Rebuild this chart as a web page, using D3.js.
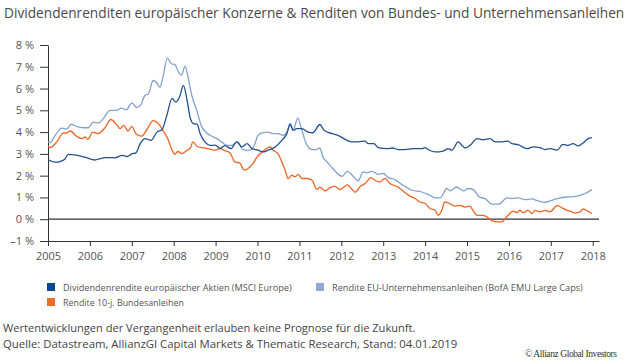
<!DOCTYPE html>
<html>
<head>
<meta charset="utf-8">
<script src="https://cdn.jsdelivr.net/npm/d3@7"></script>
<style>
  html, body { margin: 0; padding: 0; background: #fff; }
  svg { display: block; font-family: 'Open Sans', sans-serif; }
</style>
</head>
<body>
<svg width="630" height="364"></svg>
<script>
const svg = d3.select('svg');
const width = 630;
const height = 364;

// data: [decimal year, yield in %]
const divYield = [
  [2005.00,2.74],[2005.17,2.62],[2005.29,2.65],[2005.40,2.75],[2005.48,2.98],[2005.64,2.95],[2005.88,2.85],
  [2006.12,2.72],[2006.24,2.78],[2006.36,2.83],[2006.60,2.82],[2006.77,2.93],[2006.89,2.88],[2007.00,3.00],
  [2007.10,3.05],[2007.20,3.47],[2007.32,3.70],[2007.46,3.62],[2007.60,4.00],[2007.72,4.11],[2007.84,4.80],
  [2007.96,5.55],[2008.05,5.38],[2008.15,5.67],[2008.23,6.15],[2008.32,5.46],[2008.39,4.69],[2008.47,4.39],
  [2008.56,4.36],[2008.63,3.94],[2008.75,3.54],[2008.87,3.39],[2008.99,3.40],[2009.11,3.25],[2009.22,3.38],
  [2009.37,3.24],[2009.50,3.55],[2009.63,3.32],[2009.75,3.47],[2009.87,3.24],[2010.01,3.17],[2010.13,3.09],
  [2010.25,3.17],[2010.42,3.32],[2010.58,3.62],[2010.70,3.93],[2010.78,4.36],[2010.85,4.08],[2010.94,4.16],
  [2011.06,4.16],[2011.21,4.00],[2011.32,3.97],[2011.49,4.35],[2011.59,4.08],[2011.78,3.93],[2011.92,3.85],
  [2012.14,3.62],[2012.26,3.55],[2012.40,3.55],[2012.57,3.59],[2012.64,3.47],[2012.78,3.47],[2012.88,3.29],
  [2013.09,3.24],[2013.23,3.27],[2013.35,3.20],[2013.52,3.20],[2013.71,3.24],[2013.93,3.24],[2014.00,3.29],
  [2014.07,3.20],[2014.24,3.09],[2014.43,3.13],[2014.55,3.24],[2014.64,3.17],[2014.79,3.55],[2014.88,3.39],
  [2014.95,3.27],[2015.07,3.39],[2015.24,3.70],[2015.38,3.65],[2015.55,3.70],[2015.67,3.55],[2015.84,3.55],
  [2015.98,3.59],[2016.07,3.47],[2016.22,3.42],[2016.43,3.24],[2016.58,3.32],[2016.74,3.29],[2016.86,3.20],
  [2016.98,3.24],[2017.15,3.17],[2017.29,3.44],[2017.41,3.39],[2017.53,3.47],[2017.65,3.37],[2017.77,3.50],
  [2017.89,3.70],[2017.98,3.75]
];

const corpYield = [
  [2005.00,3.55],[2005.05,3.52],[2005.17,3.85],[2005.33,4.18],[2005.45,4.14],[2005.55,4.36],[2005.69,4.25],
  [2005.84,4.20],[2005.96,4.20],[2006.08,4.46],[2006.20,4.42],[2006.32,4.62],[2006.48,5.00],[2006.63,5.00],
  [2006.75,5.10],[2006.87,5.02],[2007.00,5.34],[2007.12,5.12],[2007.22,5.27],[2007.32,5.70],[2007.39,5.74],
  [2007.51,6.37],[2007.59,6.28],[2007.67,6.06],[2007.74,6.50],[2007.85,7.40],[2007.94,7.14],[2008.03,7.10],
  [2008.11,6.78],[2008.19,6.62],[2008.27,7.03],[2008.35,6.45],[2008.43,5.70],[2008.55,5.00],[2008.67,4.24],
  [2008.79,3.96],[2008.91,3.81],[2009.03,3.70],[2009.14,3.55],[2009.27,3.39],[2009.37,3.39],[2009.53,3.55],
  [2009.65,3.20],[2009.82,3.17],[2009.94,3.47],[2010.01,3.85],[2010.13,3.98],[2010.25,4.00],[2010.37,3.93],
  [2010.49,3.93],[2010.61,3.85],[2010.70,4.00],[2010.78,4.39],[2010.85,4.08],[2010.96,4.64],[2011.06,4.08],
  [2011.18,3.40],[2011.30,3.20],[2011.40,3.20],[2011.49,3.27],[2011.56,2.86],[2011.66,2.63],[2011.80,2.32],
  [2012.02,1.97],[2012.14,2.20],[2012.26,2.02],[2012.40,1.76],[2012.52,2.17],[2012.61,2.13],[2012.73,2.20],
  [2012.88,2.06],[2013.00,2.10],[2013.12,1.91],[2013.28,1.82],[2013.44,1.60],[2013.52,1.51],[2013.68,1.33],
  [2013.92,1.25],[2014.08,1.13],[2014.24,0.98],[2014.36,0.98],[2014.52,1.41],[2014.59,1.30],[2014.75,1.48],
  [2014.92,1.30],[2015.03,1.41],[2015.15,1.36],[2015.31,1.00],[2015.43,0.95],[2015.59,0.69],[2015.71,0.69],
  [2015.79,0.72],[2015.95,0.98],[2016.07,0.95],[2016.22,0.98],[2016.38,0.90],[2016.54,0.93],[2016.70,0.84],
  [2016.86,0.78],[2017.02,0.87],[2017.18,0.96],[2017.38,1.02],[2017.54,1.04],[2017.70,1.10],[2017.82,1.18],
  [2017.98,1.36]
];

const bundYield = [
  [2005.00,3.35],[2005.05,3.29],[2005.21,3.55],[2005.36,3.95],[2005.45,3.97],[2005.53,4.05],[2005.69,3.80],
  [2005.81,3.70],[2005.88,3.78],[2005.95,3.67],[2006.07,4.00],[2006.19,3.93],[2006.36,4.20],[2006.50,4.58],
  [2006.65,4.31],[2006.72,4.16],[2006.81,4.31],[2006.91,4.05],[2007.00,4.26],[2007.10,3.93],[2007.24,3.82],
  [2007.36,4.12],[2007.51,4.53],[2007.63,4.40],[2007.74,4.08],[2007.86,3.70],[2007.96,3.17],[2008.03,2.98],
  [2008.10,3.11],[2008.20,3.01],[2008.32,3.17],[2008.39,3.24],[2008.46,3.55],[2008.56,3.34],[2008.68,3.29],
  [2008.82,3.24],[2008.99,3.17],[2009.11,3.24],[2009.22,3.15],[2009.34,3.05],[2009.46,2.63],[2009.58,2.58],
  [2009.68,2.25],[2009.77,2.32],[2009.89,2.55],[2009.99,2.86],[2010.11,3.09],[2010.18,3.20],[2010.30,3.32],
  [2010.37,3.17],[2010.49,3.01],[2010.58,2.63],[2010.66,2.25],[2010.73,1.87],[2010.82,2.02],[2010.89,1.94],
  [2010.97,2.06],[2011.06,1.87],[2011.18,1.87],[2011.30,1.79],[2011.42,1.36],[2011.49,1.47],[2011.61,1.30],
  [2011.73,1.45],[2011.85,1.51],[2011.97,1.36],[2012.14,1.58],[2012.26,1.36],[2012.33,1.24],[2012.45,1.50],
  [2012.57,1.64],[2012.71,1.91],[2012.80,1.79],[2012.92,1.71],[2013.04,1.88],[2013.16,1.64],[2013.33,1.50],
  [2013.47,1.30],[2013.64,1.06],[2013.76,0.95],[2013.88,0.79],[2014.00,0.72],[2014.12,0.49],[2014.24,0.41],
  [2014.31,0.18],[2014.40,0.41],[2014.47,0.79],[2014.59,0.72],[2014.71,0.60],[2014.83,0.64],[2014.95,0.56],
  [2015.07,0.60],[2015.14,0.41],[2015.24,0.18],[2015.38,0.18],[2015.50,0.08],[2015.60,-0.08],[2015.74,-0.12],
  [2015.84,-0.12],[2015.91,0.03],[2015.98,0.18],[2016.10,0.37],[2016.19,0.30],[2016.26,0.41],[2016.34,0.30],
  [2016.46,0.41],[2016.55,0.26],[2016.62,0.41],[2016.74,0.34],[2016.86,0.41],[2016.98,0.34],[2017.15,0.62],
  [2017.27,0.52],[2017.39,0.41],[2017.46,0.37],[2017.58,0.29],[2017.70,0.34],[2017.77,0.47],[2017.89,0.36],
  [2017.98,0.26]
];

const years = d3.range(2005, 2019);
const yTicks = [-1, 0, 1, 2, 3, 4, 5, 6, 7, 8];

const seriesNames = [
  'Dividendenrendite europäischer Aktien (MSCI Europe)',
  'Rendite EU-Unternehmensanleihen (BofA EMU Large Caps)',
  'Rendite 10-j. Bundesanleihen'
];
const lineColors = ['#24508f', '#84a1cb', '#ee6424'];
const boxColors = ['#0d4893', '#93a8d4', '#ea6c25'];

const title = 'Dividendenrenditen europäischer Konzerne & Renditen von Bundes- und Unternehmensanleihen';
const notes = [
  'Wertentwicklungen der Vergangenheit erlauben keine Prognose für die Zukunft.',
  'Quelle: Datastream, AllianzGI Capital Markets & Thematic Research, Stand: 04.01.2019'
];

svg.append('rect').attr('width', width).attr('height', height).attr('fill', '#fff');

// squeeze or stretch a text to the width seen in the picture
const fitText = (sel, w) => {
  const cur = sel.node().getComputedTextLength();
  const fs = parseFloat(sel.style('font-size'));
  sel.style('font-size', (fs * w / cur) + 'px');
};

const t = svg.append('text')
    .attr('x', 4).attr('y', 18)
    .style('font-size', '14px')
    .attr('fill', '#4a4a4a')
    .text(title);
fitText(t, 621);

const x = d3.scaleLinear().domain([2005, 2018.15]).range([48, 599]);
const y = d3.scaleLinear().domain([-1, 8]).range([241, 45]);

// y axis
const yAxis = svg.append('g')
    .attr('transform', 'translate(48,0)')
    .call(d3.axisLeft(y).tickValues(yTicks).tickSize(8).tickSizeOuter(0).tickPadding(6)
      .tickFormat(d => (d < 0 ? '–' + Math.abs(d) : d) + ' %'));
yAxis.select('.domain').attr('stroke', '#333');
yAxis.selectAll('.tick line').attr('stroke', '#333');
yAxis.selectAll('.tick text')
    .attr('fill', '#555')
    .style('font-size', '11px')
    .style('font-family', "'Open Sans', sans-serif");

// x axis
const xAxis = svg.append('g')
    .attr('transform', `translate(0,${y(-1)})`)
    .call(d3.axisBottom(x).tickValues(years).tickSize(5).tickSizeOuter(0).tickPadding(6)
      .tickFormat(d3.format('d')));
xAxis.select('.domain').attr('stroke', '#333');
xAxis.selectAll('.tick line').attr('stroke', '#333');
xAxis.selectAll('.tick text')
    .attr('fill', '#555')
    .style('font-size', '11px')
    .style('font-family', "'Open Sans', sans-serif");

// zero line
svg.append('line')
    .attr('x1', x(2005)).attr('x2', x.range()[1])
    .attr('y1', y(0)).attr('y2', y(0))
    .attr('stroke', '#333').attr('stroke-width', 1.2);

const line = d3.line()
    .x(d => x(d[0]))
    .y(d => y(d[1]))
    .curve(d3.curveMonotoneX);

[bundYield, corpYield, divYield].forEach((s, i) => {
  const ci = [2, 1, 0][i];
  svg.append('path')
      .datum(s)
      .attr('d', line)
      .attr('fill', 'none')
      .attr('stroke', lineColors[ci])
      .attr('stroke-width', 1.3)
      .attr('stroke-linejoin', 'round');
});

// legend
const legendPos = [[47, 287], [316, 287], [47, 302]];
const legendW = [229, 251, 121];
seriesNames.forEach((name, i) => {
  const g = svg.append('g').attr('transform', `translate(${legendPos[i][0]},${legendPos[i][1]})`);
  g.append('rect').attr('x', 0).attr('y', -4).attr('width', 8).attr('height', 8).attr('fill', boxColors[i]);
  const lt = g.append('text')
      .attr('x', 16).attr('y', 3.5)
      .style('font-size', '9.5px')
      .attr('fill', '#555')
      .text(name);
  fitText(lt, legendW[i]);
});

// footnotes
notes.forEach((n, i) => {
  const nt = svg.append('text')
      .attr('x', 3).attr('y', 332 + i * 16)
      .style('font-size', '11.5px')
      .attr('fill', '#444')
      .text(n);
  fitText(nt, i === 0 ? 413 : 455);
});

svg.append('text')
    .attr('x', 525).attr('y', 357)
    .style('font-family', "'Liberation Serif', serif")
    .style('font-size', '9.5px')
    .attr('fill', '#333')
    .attr('textLength', 92)
    .attr('lengthAdjust', 'spacing')
    .text('© Allianz Global Investors');
</script>
</body>
</html>
